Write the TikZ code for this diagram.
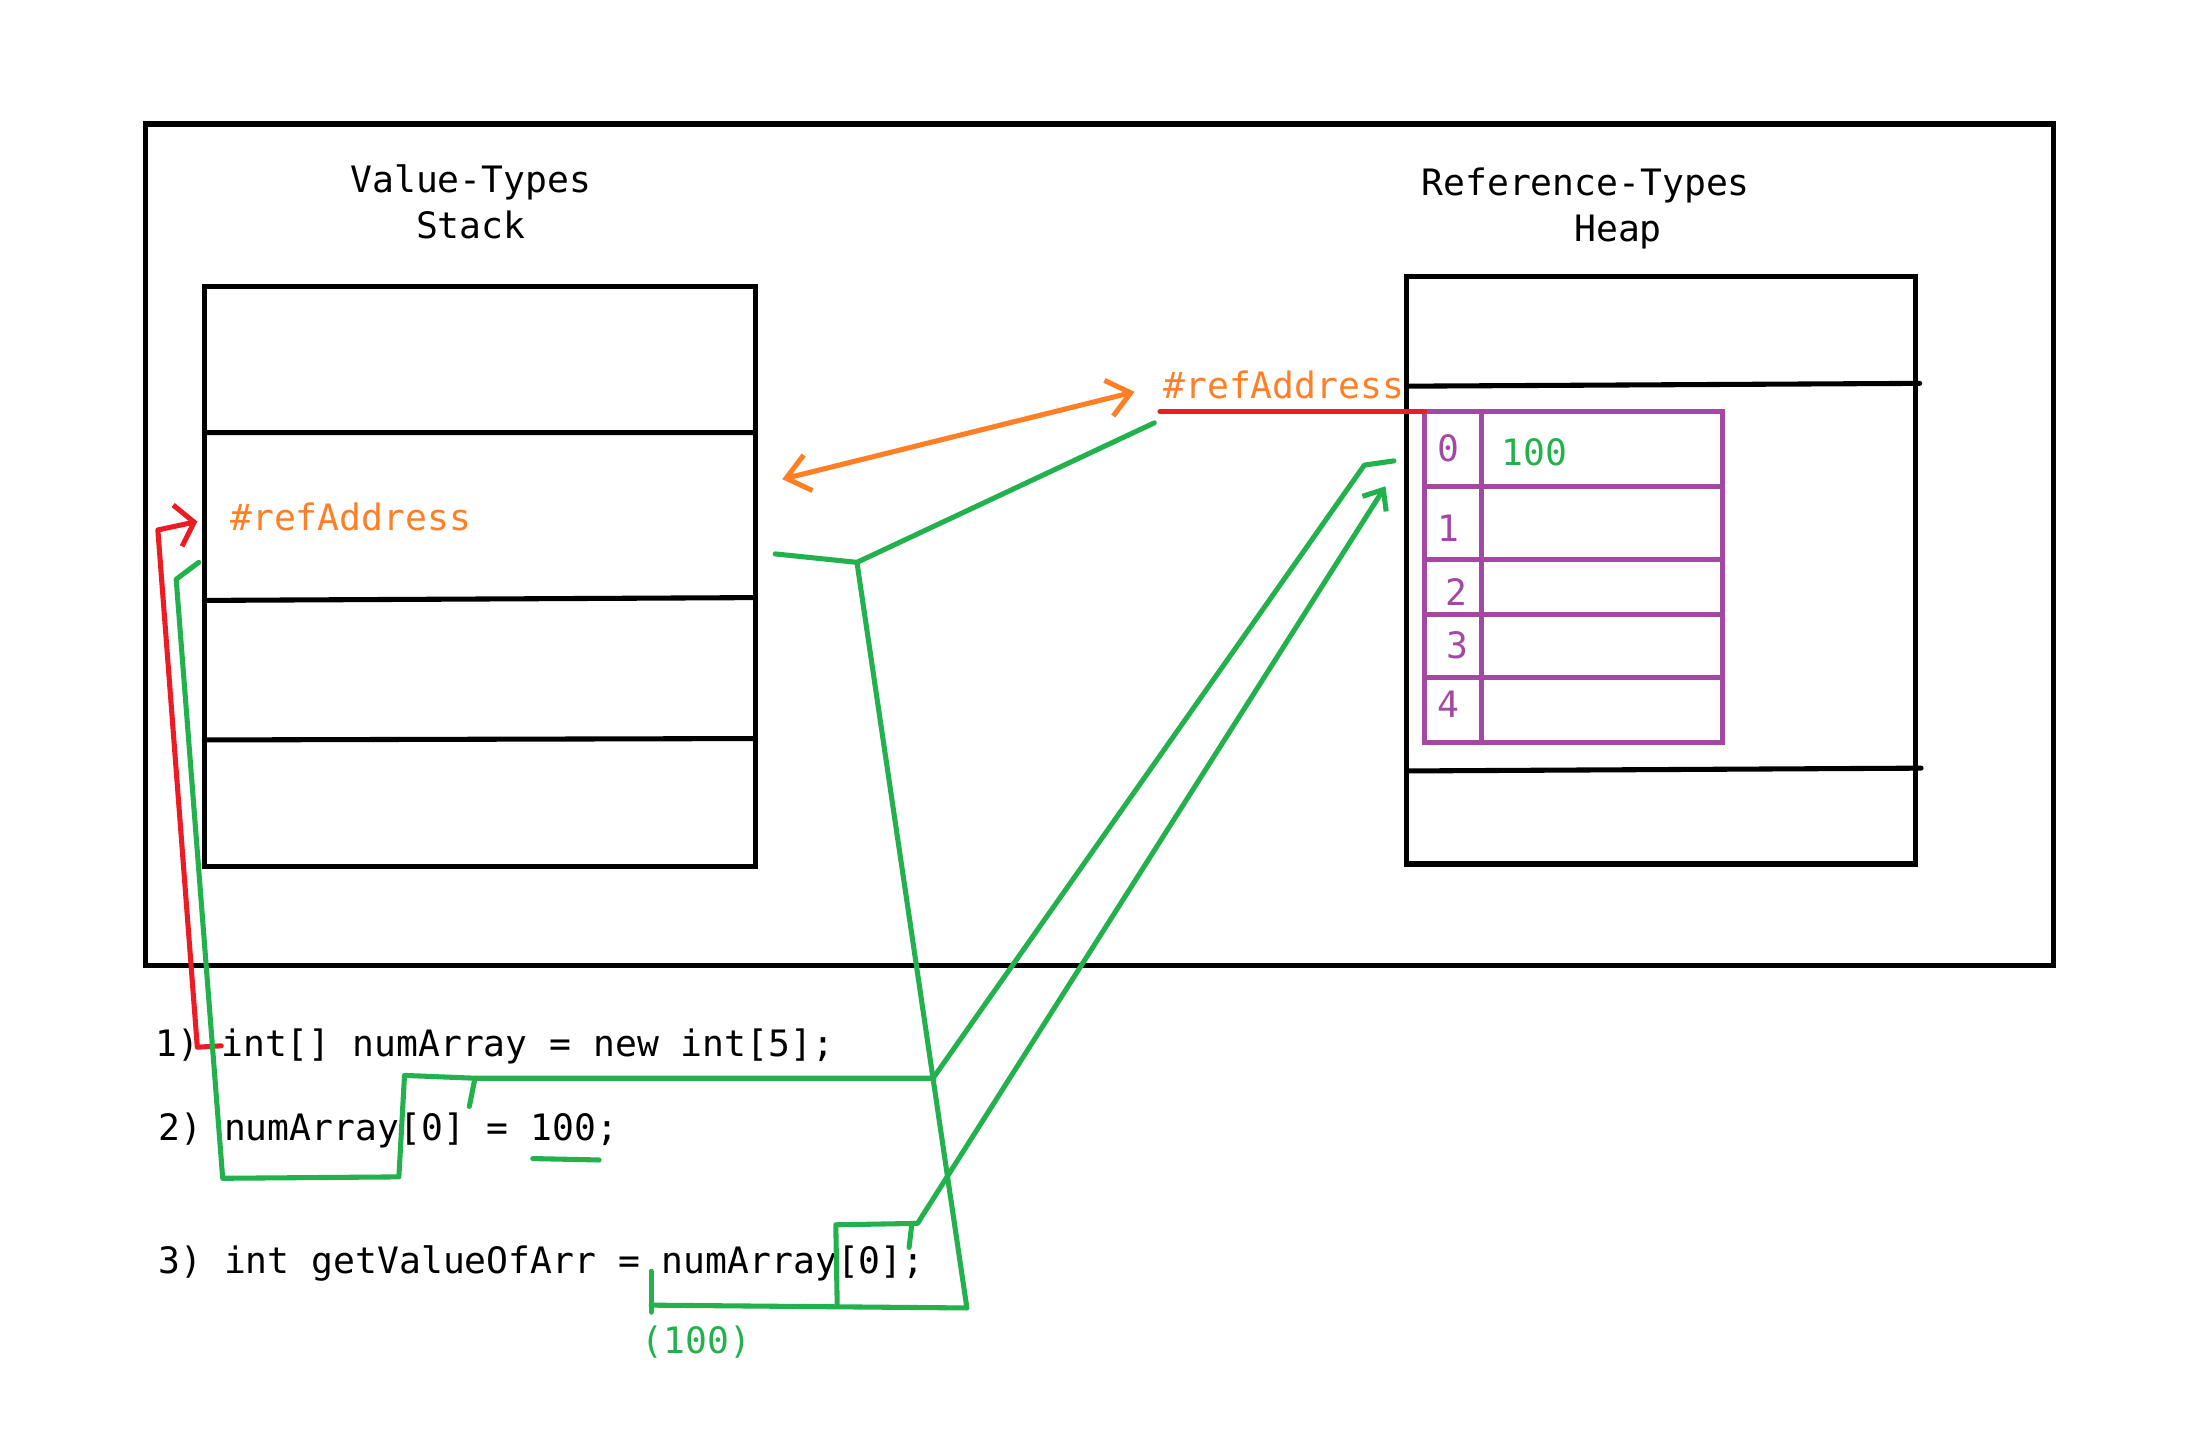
\documentclass[tikz,border=0pt]{standalone}
\usepackage{fontspec}
\setmonofont{DejaVu Sans Mono}
\usepackage{xcolor}
\usetikzlibrary{positioning, arrows.meta, calc}
\definecolor{penorange}{HTML}{FF7F27}
\definecolor{penred}{HTML}{ED1C24}
\definecolor{pengreen}{HTML}{22B14C}
\definecolor{penpurple}{HTML}{A349A4}

\begin{document}
\begin{tikzpicture}[x=0.5pt, y=-0.5pt,
    mono/.style={font=\ttfamily\fontsize{12.9}{15}\selectfont, inner sep=0pt, text height=9.5pt, text depth=2.5pt, yshift=-1.2pt},
    box/.style={draw, line width=1.8pt, inner sep=0pt, outer sep=0pt, anchor=north west},
    pen/.style={line width=1.8pt, line cap=round, line join=round}]
    \useasboundingbox (0,0) rectangle (1568,1016);
    \node[box, minimum width=677pt, minimum height=298.5pt] (frame) at (103,88) {};
    \node[box, minimum width=195.5pt, minimum height=206pt] (stack) at (145,203) {};
    \node[box, minimum width=180.5pt, minimum height=208.5pt] (heap) at (998,196) {};
    \node[box, draw=penpurple, minimum width=105.5pt, minimum height=117.5pt] (arr) at (1011,292) {};
    \draw[pen] (145,307) -- (536,307) (145,426) -- (536,424) (145,525) -- (536,524);
    \draw[pen] (998,274) -- (1362,272) (998,547) -- (1363,545);
    \draw[pen, penpurple] (1051,292) -- (1051,527);
    \foreach \y in {345, 397, 436, 481}
      \draw[pen, penpurple] (1011,\y) -- (1222,\y);

    \node[mono] (valtitle) at (334,127) {Value-Types};
    \node[mono] (stacktitle) at (334,160) {Stack};
    \node[mono] (reftitle) at (1125,129) {Reference-Types};
    \node[mono] (heaptitle) at (1148,162) {Heap};
    \node[mono, anchor=west, text=penorange] (refL) at (163,367) {\#refAddress};
    \node[mono, anchor=west, text=penorange] (refR) at (825,273) {\#refAddress};
    \foreach \i/\x/\y in {0/1028/318, 1/1028/375, 2/1033/420, 3/1034/458, 4/1028/500}
      \node[mono, text=penpurple] (idx\i) at (\x,\y) {\i};
    \node[mono, anchor=west, text=pengreen] (val0) at (1065,321) {100};
    \node[mono, anchor=west] (line1) at (110,740) {1) int[] numArray = new int[5];};
    \node[mono, anchor=west] (line2) at (112,800) {2) numArray[0] = 100;};
    \node[mono, anchor=west] (line3) at (112,894) {3) int getValueOfArr = numArray[0];};
    \node[mono, text=pengreen] (result) at (494,951) {(100)};

    \coordinate (stackR) at (555,340);
    \coordinate (heapL) at (805,278);
    \coordinate (cross) at (608,399);
    \coordinate (mid) at (662,765);
    \coordinate (slot0) at (968,330);
    \coordinate (slot0b) at (983,345);
    \draw[pen, penorange, {Straight Barb[length=8pt, width=13pt]}-{Straight Barb[length=8pt, width=13pt]}] (stackR) -- (heapL);
    \draw[pen, penred] (823,292) -- (arr.north west);
    \draw[pen, penred, -{Straight Barb[length=6pt, width=15pt]}] (157,742) -- (140,743) -- (112,376) -- (140,370);
    \draw[pen, pengreen] (141,399) -- (125,411) -- (158,836) -- (283,835) -- (287,763) -- (337,765) -- (mid) -- (slot0) -- (989,327);
    \draw[pen, pengreen] (337,765) -- (333,785);
    \draw[pen, pengreen] (550,393) -- (cross) -- (819,300);
    \draw[pen, pengreen] (cross) -- (686,928) -- (462,926);
    \draw[pen, pengreen] (462,902) -- (462,931);
    \draw[pen, pengreen, -{Straight Barb[length=6pt, width=10pt]}] (594,926) -- (593,869) -- (651,868) -- (slot0b);
    \draw[pen, pengreen] (647,868) -- (645,885);
    \draw[pen, pengreen] (378,822) -- (425,823);
\end{tikzpicture}
\end{document}
